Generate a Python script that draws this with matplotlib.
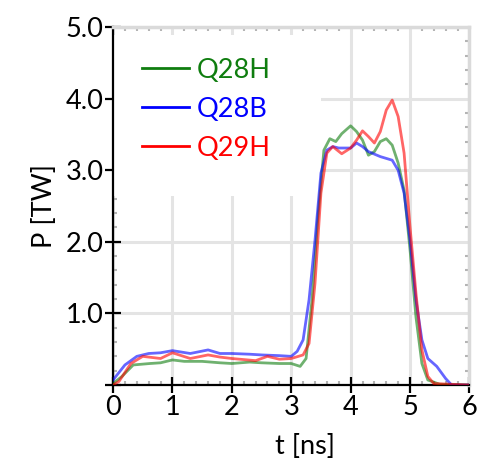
import matplotlib
matplotlib.use("Agg")
import matplotlib.pyplot as plt
from matplotlib.lines import Line2D
from matplotlib.patches import Rectangle
from matplotlib.ticker import MultipleLocator, FuncFormatter

plt.rcParams['font.family'] = ['Lato', 'DejaVu Sans']

# Q28H (green)
t_green = [0.0, 0.15, 0.34, 0.62, 0.8, 1.0, 1.2, 1.5, 1.8, 2.0, 2.3, 2.5, 2.8, 3.0, 3.15, 3.25,
           3.35, 3.45, 3.55, 3.65, 3.75, 3.85, 4.0, 4.1, 4.2, 4.3, 4.4, 4.5, 4.6, 4.7, 4.8,
           4.9, 5.0, 5.1, 5.2, 5.3, 5.5, 6.0]
p_green = [0.02, 0.12, 0.28, 0.30, 0.31, 0.35, 0.33, 0.33, 0.31, 0.30, 0.32, 0.31, 0.30, 0.30, 0.26, 0.37,
           1.19, 2.35, 3.28, 3.44, 3.40, 3.51, 3.62, 3.54, 3.42, 3.21, 3.26, 3.40, 3.44, 3.35, 3.10,
           2.72, 1.89, 0.95, 0.30, 0.07, 0.01, 0.0]

# Q28B (blue)
t_blue = [0.0, 0.2, 0.4, 0.6, 0.8, 1.0, 1.3, 1.6, 1.8, 2.0, 2.3, 2.5, 2.8, 3.0, 3.1, 3.2, 3.3,
          3.4, 3.5, 3.6, 3.7, 3.8, 4.0, 4.1, 4.2, 4.3, 4.5, 4.7, 4.8, 4.9, 5.0, 5.1, 5.2,
          5.3, 5.45, 5.6, 5.7, 6.0]
p_blue = [0.07, 0.28, 0.40, 0.44, 0.45, 0.48, 0.44, 0.49, 0.44, 0.44, 0.43, 0.42, 0.41, 0.40, 0.47, 0.63, 1.19,
          2.02, 2.96, 3.28, 3.33, 3.31, 3.31, 3.38, 3.33, 3.26, 3.19, 3.14, 3.00, 2.68, 2.02, 1.19, 0.63,
          0.37, 0.26, 0.09, 0.0, 0.0]

# Q29H (red)
t_red = [0.0, 0.1, 0.3, 0.5, 0.8, 1.0, 1.3, 1.6, 1.8, 2.0, 2.4, 2.6, 2.8, 3.0, 3.2, 3.3,
         3.4, 3.5, 3.6, 3.7, 3.85, 4.0, 4.1, 4.2, 4.3, 4.4, 4.5, 4.6, 4.7, 4.8, 4.9,
         5.0, 5.1, 5.2, 5.3, 5.4, 6.0]
p_red = [0.0, 0.05, 0.30, 0.40, 0.37, 0.45, 0.37, 0.42, 0.39, 0.37, 0.34, 0.40, 0.36, 0.37, 0.42, 0.58,
         1.42, 2.68, 3.24, 3.33, 3.23, 3.31, 3.42, 3.55, 3.47, 3.38, 3.54, 3.84, 3.98, 3.75, 3.24,
         2.21, 1.28, 0.49, 0.12, 0.02, 0.0]

series = [
    ("Q28H", t_green, p_green, '#0f7d0f'),
    ("Q28B", t_blue, p_blue, '#0000ff'),
    ("Q29H", t_red, p_red, '#ff0000'),
]

fig = plt.figure(figsize=(4.79, 4.71), dpi=100)
ax = fig.add_axes([0.236, 0.1826, 0.744, 0.760])

for name, t, p, c in series:
    ax.plot(t, p, color=c, lw=2.0, alpha=0.6, zorder=3)

ax.set_xlim(0, 6)
ax.set_ylim(0, 5)
ax.xaxis.set_major_locator(MultipleLocator(1))
ax.yaxis.set_major_locator(MultipleLocator(1))
ax.xaxis.set_minor_locator(MultipleLocator(0.2))
ax.yaxis.set_minor_locator(MultipleLocator(0.2))
# no label at the origin on the P axis
ax.yaxis.set_major_formatter(FuncFormatter(lambda v, pos: '' if v == 0 else f'{v:.1f}'))

ax.grid(True, which='major', color='#e4e4e4', lw=2.2, zorder=0)
ax.set_axisbelow(True)

for side in ('top', 'right'):
    ax.spines[side].set_color('#dadada')
    ax.spines[side].set_linewidth(2.5)
for side in ('left', 'bottom'):
    ax.spines[side].set_color('black')
    ax.spines[side].set_linewidth(1.6)

ax.tick_params(which='major', direction='inout', length=12, width=1.6,
               top=False, right=False, labelsize=19.5, pad=1)
ax.tick_params(which='minor', direction='in', length=3, width=1.5,
               color='#b4b4b4', top=True, right=True, bottom=True, left=True)

# white panel behind the legend
ax.add_patch(Rectangle((0.0, 0.528), 0.583, 0.45, transform=ax.transAxes,
                       facecolor='white', edgecolor='none', zorder=1))

handles = [Line2D([0], [0], color=c, lw=2.0) for _, _, _, c in series]
labels = [name for name, _, _, _ in series]
leg = ax.legend(handles, labels, loc='upper left', bbox_to_anchor=(0.05, 0.945),
                frameon=False, fontsize=19.5, handlelength=1.75, handletextpad=0.3,
                labelspacing=0.52, borderaxespad=0)
for txt, (_, _, _, c) in zip(leg.get_texts(), series):
    txt.set_color(c)

ax.set_xlabel('t [ns]', fontsize=19.5, labelpad=10, x=0.54)
ax.set_ylabel('P [TW]', fontsize=19.5, labelpad=6)

fig.savefig('out.png', dpi=100)
